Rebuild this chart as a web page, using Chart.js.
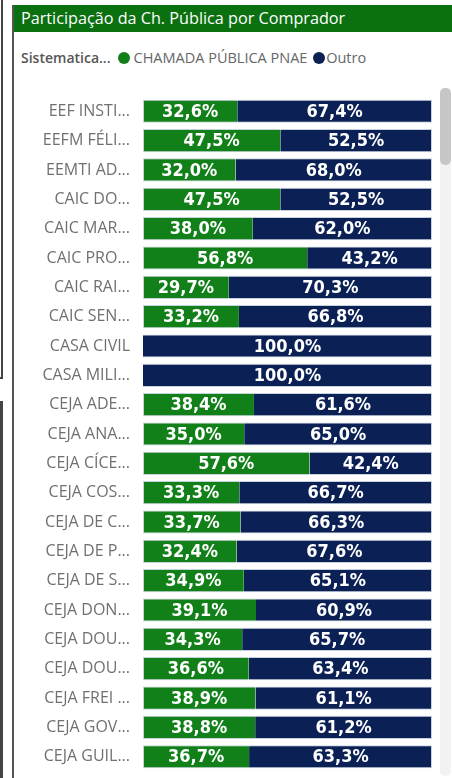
<!DOCTYPE html>
<html>
<head>
<meta charset="utf-8">
<script src="https://cdn.jsdelivr.net/npm/chart.js@4"></script>
<style>
  body { margin: 0; width: 452px; height: 778px; background: #fff; overflow: hidden; position: relative; font-family: 'Segoe UI', 'Open Sans', sans-serif; }
  .edge1 { position: absolute; left: 1px; top: 0; width: 2px; height: 378px; background: #444; }
  .edge1b { position: absolute; left: 0; top: 377px; width: 3px; height: 2px; background: #444; }
  .edge2 { position: absolute; left: 0; top: 401px; width: 3px; height: 377px; background: #444; }
  .box { position: absolute; left: 12px; top: 5px; right: 0; bottom: 0; border-left: 2px solid #555; }
  .title { height: 27px; background: #0b700f; color: #fff; font-size: 16.2px; line-height: 27px; padding-left: 7px; white-space: nowrap; }
  .legend { position: absolute; left: 7px; top: 43px; font-size: 14.5px; color: #666; white-space: nowrap; }
  .legend b { color: #555; font-weight: 600; margin-right: 7px; font-size: 14px; }
  .dot { display: inline-block; width: 12px; height: 12px; border-radius: 50%; vertical-align: -1px; margin-right: 4px; }
  .track { position: absolute; left: 440px; top: 88px; width: 11px; height: 688px; background: #f2f2f2; border-radius: 5px; }
  .thumb { position: absolute; left: 440px; top: 88px; width: 11px; height: 77px; background: #c6c6c6; border-radius: 5px; }
  #wrap { position: absolute; left: 14px; top: 74px; width: 420px; height: 720px; }
</style>
</head>
<body>
<div class="edge1"></div><div class="edge1b"></div><div class="edge2"></div>
<div class="box">
  <div class="title">Participação da Ch. Pública por Comprador</div>
  <div class="legend"><b>Sistematica...</b><span class="dot" style="background:#128019"></span>CHAMADA PÚBLICA PNAE <span class="dot" style="background:#0b2155;margin-left:2px;margin-right:1px"></span>Outro</div>
</div>
<div class="track"></div><div class="thumb"></div>
<div id="wrap"><canvas id="chart"></canvas></div>
<script>
const categories = ['EEF INSTI...', 'EEFM FÉLI...', 'EEMTI AD...', 'CAIC DO...', 'CAIC MAR...', 'CAIC PRO...',
  'CAIC RAI...', 'CAIC SEN...', 'CASA CIVIL', 'CASA MILI...', 'CEJA ADE...', 'CEJA ANA...', 'CEJA CÍCE...',
  'CEJA COS...', 'CEJA DE C...', 'CEJA DE P...', 'CEJA DE S...', 'CEJA DON...', 'CEJA DOU...', 'CEJA DOU...',
  'CEJA FREI ...', 'CEJA GOV...', 'CEJA GUIL...'];
const pnae = [32.6, 47.5, 32.0, 47.5, 38.0, 56.8, 29.7, 33.2, null, null, 38.4, 35.0, 57.6,
  33.3, 33.7, 32.4, 34.9, 39.1, 34.3, 36.6, 38.9, 38.8, 36.7];
const outro = [67.4, 52.5, 68.0, 52.5, 62.0, 43.2, 70.3, 66.8, 100, 100, 61.6, 65.0, 42.4,
  66.7, 66.3, 67.6, 65.1, 60.9, 65.7, 63.4, 61.1, 61.2, 63.3];

const fmt = v => v.toFixed(1).replace('.', ',') + '%';

// labels centred in each segment
const barLabels = {
  id: 'barLabels',
  afterDatasetsDraw(chart) {
    const ctx = chart.ctx;
    ctx.save();
    ctx.fillStyle = '#fff';
    ctx.font = 'bold 18px "DejaVu Sans Condensed", "DejaVu Sans", sans-serif';
    ctx.textAlign = 'center';
    ctx.textBaseline = 'middle';
    chart.data.datasets.forEach((ds, i) => {
      chart.getDatasetMeta(i).data.forEach((bar, j) => {
        const v = ds.data[j];
        if (!v) return;
        const left = Math.min(bar.x, bar.base), right = Math.max(bar.x, bar.base);
        ctx.fillText(fmt(v), (left + right) / 2, bar.y + 1);
      });
    });
    ctx.restore();
  }
};

new Chart(document.getElementById('chart'), {
  type: 'bar',
  data: {
    labels: categories,
    datasets: [
      { label: 'CHAMADA PÚBLICA PNAE', data: pnae, backgroundColor: '#128019',
        borderColor: '#c8d2de', borderWidth: { top: 1, bottom: 1, left: 1, right: 0 }, borderSkipped: false },
      { label: 'Outro', data: outro, backgroundColor: '#0b2155',
        borderColor: '#c8d2de', borderWidth: { top: 1, bottom: 1, left: 0, right: 1 }, borderSkipped: false }
    ]
  },
  options: {
    indexAxis: 'y',
    responsive: true,
    maintainAspectRatio: false,
    animation: false,
    layout: { padding: { left: 0, right: 2, top: 0, bottom: 0 } },
    categoryPercentage: 1,
    barPercentage: 0.79,
    plugins: { legend: { display: false }, tooltip: { enabled: false } },
    scales: {
      x: { stacked: true, min: 0, max: 100, display: false },
      y: {
        stacked: true,
        grid: { display: false, drawTicks: false },
        border: { display: false },
        ticks: { color: '#707070', padding: 13, font: { family: "'Segoe UI', 'Open Sans', sans-serif", size: 16 } },
        afterFit(scale) { scale.width = 129; }
      }
    }
  },
  plugins: [barLabels]
});
</script>
</body>
</html>
